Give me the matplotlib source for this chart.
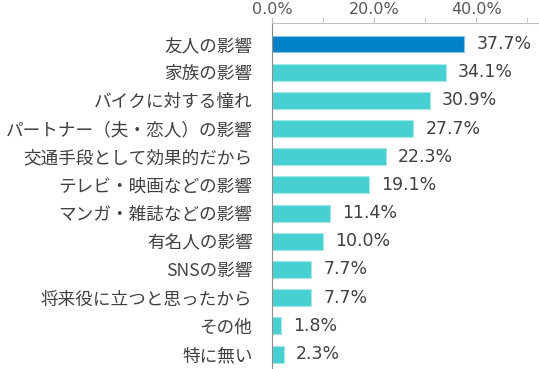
import matplotlib
matplotlib.use('Agg')
import matplotlib.pyplot as plt
from matplotlib.ticker import MultipleLocator, FuncFormatter

plt.rcParams['font.family'] = ['Noto Sans CJK JP', 'DejaVu Sans']

# データ
categories = ['友人の影響', '家族の影響', 'バイクに対する憧れ', 'パートナー（夫・恋人）の影響',
              '交通手段として効果的だから', 'テレビ・映画などの影響', 'マンガ・雑誌などの影響',
              '有名人の影響', 'SNSの影響', '将来役に立つと思ったから', 'その他', '特に無い']
values = [37.7, 34.1, 30.9, 27.7, 22.3, 19.1, 11.4, 10.0, 7.7, 7.7, 1.8, 2.3]

colors = ['#0080c6'] + ['#48cfd1'] * (len(values) - 1)
edges = ['#8cc4e6'] + ['#a6e8e8'] * (len(values) - 1)

fig = plt.figure(figsize=(5.39, 3.69), dpi=100)
ax = fig.add_axes([0.5046, 0.0, 0.4954, 0.9377])

y = list(range(len(categories)))
ax.barh(y, values, height=0.6, color=colors, edgecolor=edges, linewidth=0.8)

for yi, v in zip(y, values):
    ax.annotate(f'{v:.1f}%', (v, yi), xytext=(8.6, 0), textcoords='offset points',
                va='center', ha='left', fontsize=12.5, color='#404040',
                fontfamily='DejaVu Sans')

ax.set_xlim(0, 52.3)
ax.set_ylim(11.53, -0.745)
ax.set_yticks(y)
ax.set_yticklabels(categories, fontsize=12.7, color='#404040')
ax.tick_params(axis='y', length=0, pad=14)

ax.xaxis.tick_top()
ax.xaxis.set_major_locator(MultipleLocator(20))
ax.xaxis.set_minor_locator(MultipleLocator(10))
ax.xaxis.set_major_formatter(FuncFormatter(lambda x, p: f'{x:.1f}%'))
ax.tick_params(axis='x', which='both', length=4, color='#bfbfbf', labelsize=11.5,
               labelcolor='#595959', pad=0.5)
for lab in ax.get_xticklabels():
    lab.set_fontfamily('DejaVu Sans')

for s in ['right', 'bottom']:
    ax.spines[s].set_visible(False)
ax.spines['top'].set_color('#bfbfbf')
ax.spines['left'].set_color('#8c8c8c')

fig.savefig('out.png', dpi=100)
